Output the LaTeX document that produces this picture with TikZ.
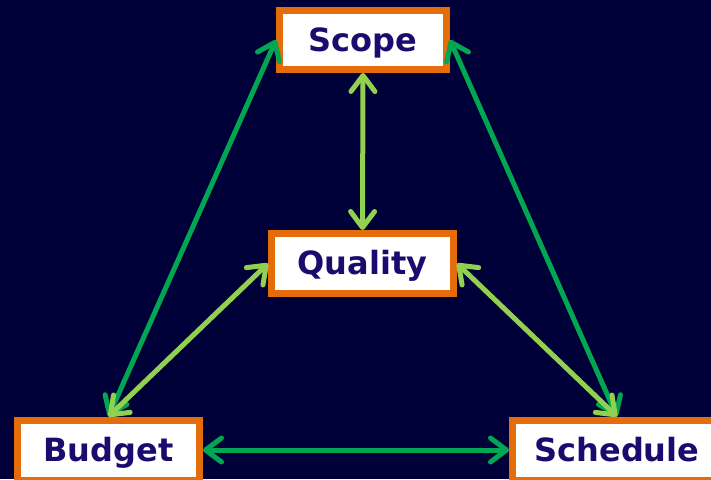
\documentclass[tikz,border=0pt]{standalone}
\usepackage{fontspec}
\setmainfont{DejaVu Sans}
\usepackage{tikz}
\usetikzlibrary{arrows.meta}
\definecolor{bgnavy}{RGB}{0,0,56}
\definecolor{boxorange}{RGB}{228,108,10}
\definecolor{boxtext}{RGB}{28,10,110}
\definecolor{darkgreen}{RGB}{0,166,81}
\definecolor{lightgreen}{RGB}{146,208,80}

\begin{document}
\begin{tikzpicture}[x=1pt, y=-1pt,
    box/.style={draw=boxorange, line width=7pt, fill=white, text=boxtext,
      font=\fontsize{32}{38}\selectfont\bfseries, inner sep=0pt, outer sep=3.5pt,
      text height=22pt, text depth=0pt},
    link/.style={line width=5pt, {Straight Barb[round,length=16pt,width=24pt]}-{Straight Barb[round,length=16pt,width=24pt]}}]
      \fill[bgnavy] (0,0) rectangle (711,479);
      \useasboundingbox (0,0) rectangle (711,479);

      \node[box, minimum width=167pt, minimum height=59pt] (scope) at (363,40) {Scope};
      \node[box, minimum width=182pt, minimum height=60pt] (quality) at (362.5,263.5) {Quality};
      \node[box, minimum width=182pt, minimum height=60pt] (budget) at (108.5,450) {Budget};
      \node[box, minimum width=209pt, minimum height=60pt] (schedule) at (617,450) {Schedule};

      \draw[link, darkgreen] (scope.west) -- (budget.north);
      \draw[link, darkgreen] (scope.east) -- (schedule.north);
      \draw[link, darkgreen] (budget.east) -- (schedule.west);
      \draw[link, lightgreen] (scope.south) -- (quality.north);
      \draw[link, lightgreen] (quality.west) -- (budget.north);
      \draw[link, lightgreen] (quality.east) -- (schedule.north);
\end{tikzpicture}
\end{document}
